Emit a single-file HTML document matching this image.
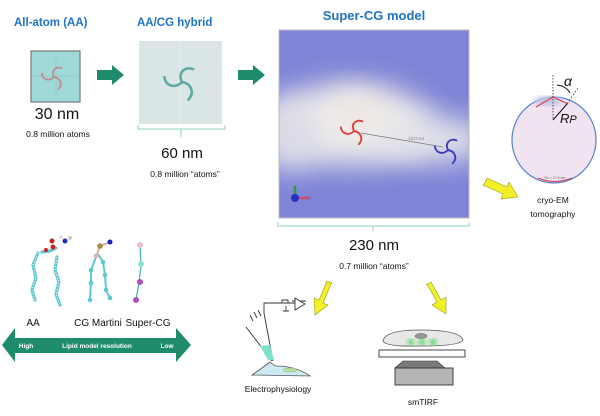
<!DOCTYPE html>
<html><head><meta charset="utf-8"><style>
html,body{margin:0;padding:0;background:#fff;width:600px;height:416px;overflow:hidden}
svg{display:block}
text{font-family:"Liberation Sans",sans-serif}
</style></head><body>
<svg width="600" height="416" viewBox="0 0 600 416" xmlns="http://www.w3.org/2000/svg">
<defs>
<filter id="bl" x="-50%" y="-50%" width="200%" height="200%"><feGaussianBlur stdDeviation="14"/></filter>
<filter id="bl2"><feGaussianBlur stdDeviation="2.5"/></filter>
<clipPath id="cb"><rect x="279" y="30" width="190" height="188"/></clipPath>
<g id="spiral" fill="none" stroke-width="1.6" stroke-linecap="round">
<path d="M0,0 C-3,-6 2,-10 7,-8"/><path d="M0,0 C6,1 8,7 4,11"/><path d="M0,0 C-4,4 -10,3 -11,-3"/>
</g>
</defs>

<text x="14" y="26" font-size="11.5" font-weight="bold" fill="#1f73c2">All-atom (AA)</text>
<text x="137" y="26" font-size="11.5" font-weight="bold" fill="#1f73c2">AA/CG hybrid</text>
<text x="374" y="20" font-size="13" font-weight="bold" fill="#1f73c2" text-anchor="middle">Super-CG model</text>

<rect x="31" y="51" width="49" height="51" fill="#9fdad8" stroke="#777" stroke-width="1.2"/>
<line x1="56" y1="51" x2="56" y2="102" stroke="#9bb" stroke-width="0.6"/>
<line x1="31" y1="76" x2="80" y2="76" stroke="#9bb" stroke-width="0.6"/>
<g transform="translate(54 77) scale(1.1)"><use href="#spiral" stroke="#c08a90"/></g>
<text x="57" y="119" font-size="16" text-anchor="middle" fill="#111">30 nm</text>
<text x="58" y="137" font-size="8.5" text-anchor="middle" fill="#111">0.8 million atoms</text>

<path d="M97,70 h15 v-5 l12,10 l-12,10 v-5 h-15z" fill="#1e8c6c"/>
<path d="M238,70 h15 v-5 l12,10 l-12,10 v-5 h-15z" fill="#1e8c6c"/>

<rect x="139" y="41" width="83" height="83" fill="#d9e6e5"/>
<line x1="180" y1="41" x2="180" y2="124" stroke="#e8f0ef" stroke-width="0.6"/>
<line x1="139" y1="82" x2="222" y2="82" stroke="#e8f0ef" stroke-width="0.6"/>
<g transform="translate(182 82) scale(1.6)"><use href="#spiral" stroke="#5fa8a4"/></g>
<path d="M138,125 v4 h87 v-4 M181,129 v8" fill="none" stroke="#8fd0c2" stroke-width="1"/>
<text x="182" y="158" font-size="15" text-anchor="middle" fill="#111">60 nm</text>
<text x="185" y="177" font-size="8.5" text-anchor="middle" fill="#111">0.8 million “atoms”</text>

<g clip-path="url(#cb)">
<rect x="279" y="30" width="190" height="188" fill="#7f84d6"/>
<ellipse cx="350" cy="125" rx="85" ry="40" fill="#ecebea" filter="url(#bl)"/>
<ellipse cx="430" cy="140" rx="60" ry="22" fill="#e4e4ea" filter="url(#bl)"/>
<ellipse cx="290" cy="135" rx="30" ry="35" fill="#dcdce8" filter="url(#bl)"/>
<ellipse cx="355" cy="110" rx="30" ry="20" fill="#f0e8e4" filter="url(#bl)"/>
</g>
<rect x="279" y="30" width="190" height="188" fill="none" stroke="#bbb" stroke-width="1"/>
<line x1="361" y1="133" x2="443" y2="147" stroke="#777" stroke-width="0.7"/>
<text x="408" y="140" font-size="4.5" fill="#888">1224.54</text>
<g transform="translate(354 131) scale(1.2)"><use href="#spiral" stroke="#e0403c"/></g>
<g transform="translate(448 150) scale(1.2)"><use href="#spiral" stroke="#3a3fb8"/></g>
<line x1="295" y1="198" x2="295" y2="186" stroke="#2a9a3a" stroke-width="2.5"/>
<line x1="295" y1="198" x2="310" y2="198" stroke="#d04a6a" stroke-width="2.5"/>
<circle cx="295" cy="198" r="4" fill="#2a30c0"/>
<path d="M278,222 v4 h191 v-4 M373,226 v5" fill="none" stroke="#8fd0c2" stroke-width="1"/>
<text x="374" y="250" font-size="15" text-anchor="middle" fill="#111">230 nm</text>
<text x="374" y="269" font-size="8.5" text-anchor="middle" fill="#111">0.7 million “atoms”</text>

<ellipse cx="554" cy="140" rx="42" ry="43" fill="#efe4f0" stroke="#5a7fd0" stroke-width="1.2"/>
<ellipse cx="548" cy="101" rx="14" ry="5" fill="#c6c6e4" filter="url(#bl2)"/>
<path d="M536,107 L553,97 L568,104" fill="none" stroke="#d04050" stroke-width="1.2"/>
<path d="M538,178 Q554,185 572,178" fill="none" stroke="#d04050" stroke-width="1"/>
<line x1="553" y1="75" x2="553" y2="120" stroke="#222" stroke-width="0.8" stroke-dasharray="1.5,1.5"/>
<line x1="553" y1="120" x2="567" y2="104" stroke="#111" stroke-width="1"/>
<line x1="567" y1="104" x2="578" y2="88" stroke="#222" stroke-width="0.6" stroke-dasharray="2,1.5"/>
<path d="M557,85 Q566,86 570,93" fill="none" stroke="#111" stroke-width="1"/>
<text x="564" y="86" font-size="14" font-style="italic" font-family="Liberation Serif" fill="#111">α</text>
<text x="560" y="123" font-size="13" font-style="italic" fill="#111">R<tspan font-size="11">P</tspan></text>
<text x="555" y="179" font-size="3.5" fill="#666" text-anchor="middle">Rc = 27.6 nm</text>
<text x="553" y="203" font-size="8.5" text-anchor="middle" fill="#111">cryo-EM</text>
<text x="553" y="217" font-size="8.5" text-anchor="middle" fill="#111">tomography</text>

<g fill="#f1f025" stroke="#9a9a20" stroke-width="0.6">
<path d="M485,183 l2,-5 l20,9 l2,-5 l9,15 l-17,2 l2,-5 l-20,-9z"/>
<path d="M332,283 l-5,-2 l-8,19 l-5,-2 l1,17 l13,-10 l-5,-2 l8,-19z"/>
<path d="M426,285 l5,-3 l10,18 l5,-3 l0,17 l-14,-9 l5,-3 l-10,-18z"/>
</g>

<g fill="none" stroke="#333" stroke-width="0.9">
<line x1="246" y1="327" x2="272" y2="361"/>
<line x1="264" y1="313" x2="273" y2="361"/>
<path d="M264,313 v-10 h12 M276,303 h20 M282,303 v-3 h6 v3 M286,306 v5 M283,311 h6 M292,301 h14"/>
<path d="M295,298 l0,12 l10,-6z" fill="#fff"/>
<path d="M253,321 l-3,-6 M257,318 l-3,-6 M261,316 l-3,-6"/>
</g>
<path d="M260,346 L270,345 L274,360 L268,360z" fill="#7fe0c8"/>
<path d="M252,375 Q262,368 270,362 Q272,364 276,366 Q296,366 310,376 Z" fill="#cdeaf3" stroke="#555" stroke-width="0.8"/>
<ellipse cx="290" cy="370" rx="7" ry="2" fill="#b8e09a" stroke="#9a9" stroke-width="0.5"/>
<text x="278" y="392" font-size="8.5" text-anchor="middle" fill="#111">Electrophysiology</text>

<path d="M383,341 Q385,330 420,330 Q460,330 463,340 Q460,346 422,346 Q385,347 383,341z" fill="#e8e8e8" stroke="#555" stroke-width="0.8"/>
<ellipse cx="421" cy="336" rx="6" ry="2.5" fill="#999" stroke="#555" stroke-width="0.5"/>
<g fill="#3ad04a" filter="url(#bl2)"><circle cx="411" cy="342" r="3"/><circle cx="422" cy="342" r="3"/><circle cx="433" cy="342" r="3"/></g>
<rect x="379" y="350" width="86" height="7" fill="#fff" stroke="#333" stroke-width="0.9"/>
<path d="M403,361 h34 l8,7 h-50z" fill="#7a7a7a" stroke="#333" stroke-width="0.6"/>
<rect x="395" y="368" width="58" height="17" fill="#b5b5b5" stroke="#333" stroke-width="0.9"/>
<text x="423" y="405" font-size="8.5" text-anchor="middle" fill="#111">smTIRF</text>

<g stroke="#5fc8d0" stroke-width="3.2" fill="none" stroke-linecap="round">
<path d="M38,253 L33,265 36,278 32,290 35,300"/>
<path d="M57,257 L55,270 59,282 56,294 60,305"/>
<path d="M42,252 L50,251 56,248"/>
</g>
<g stroke="#fff" stroke-width="1.2" stroke-dasharray="1,2" fill="none">
<path d="M38,253 L33,265 36,278 32,290 35,300"/><path d="M57,257 L55,270 59,282 56,294 60,305"/>
</g>
<circle cx="53" cy="247" r="2.5" fill="#d02020"/><circle cx="46" cy="250" r="2" fill="#d02020"/><circle cx="52" cy="241" r="2.5" fill="#c02020"/>
<circle cx="65" cy="241" r="2.5" fill="#1830b0"/><circle cx="61" cy="237" r="2" fill="#ddd"/><circle cx="70" cy="238" r="2" fill="#ccc"/>
<g stroke="#5fc8d0" stroke-width="2" fill="none">
<path d="M96,257 L91,270 91,283 90,300"/>
<path d="M98,254 L103,262 105,275 106,290 110,298"/>
</g>
<g fill="#5fc8d0"><circle cx="91" cy="270" r="2.3"/><circle cx="91" cy="283" r="2.3"/><circle cx="90" cy="300" r="2.3"/><circle cx="103" cy="262" r="2.3"/><circle cx="105" cy="275" r="2.3"/><circle cx="106" cy="290" r="2.3"/><circle cx="110" cy="298" r="2.3"/></g>
<path d="M96,257 L100,246 L110,242" stroke="#e0a8a8" stroke-width="2" fill="none"/>
<circle cx="96" cy="256" r="2.5" fill="#e8b0b0"/><circle cx="100" cy="246" r="2.8" fill="#a09040"/><circle cx="110" cy="242" r="2.5" fill="#1020c0"/>
<path d="M140,245 L141,266 139,282 L136,300" stroke="#40b0b0" stroke-width="1.2" fill="none"/>
<circle cx="140" cy="245" r="3" fill="#f0c0c8"/><circle cx="141" cy="264" r="3" fill="#90dce0"/><circle cx="140" cy="282" r="3" fill="#b050c0"/><circle cx="136" cy="300" r="3" fill="#b050c0"/>
<text x="33" y="326" font-size="10" text-anchor="middle" fill="#111">AA</text>
<text x="98" y="326" font-size="10" text-anchor="middle" fill="#111">CG Martini</text>
<text x="148" y="326" font-size="10" text-anchor="middle" fill="#111">Super-CG</text>

<path d="M2,345 L15,328 V338 H176 V328 L191,345 L176,362 V353 H15 V362 Z" fill="#1e8c6c"/>
<text x="26" y="348" font-size="6.5" font-weight="bold" fill="#fff" text-anchor="middle">High</text>
<text x="97" y="348" font-size="6.5" font-weight="bold" fill="#fff" text-anchor="middle">Lipid model resolution</text>
<text x="167" y="348" font-size="6.5" font-weight="bold" fill="#fff" text-anchor="middle">Low</text>
</svg>
</body></html>
